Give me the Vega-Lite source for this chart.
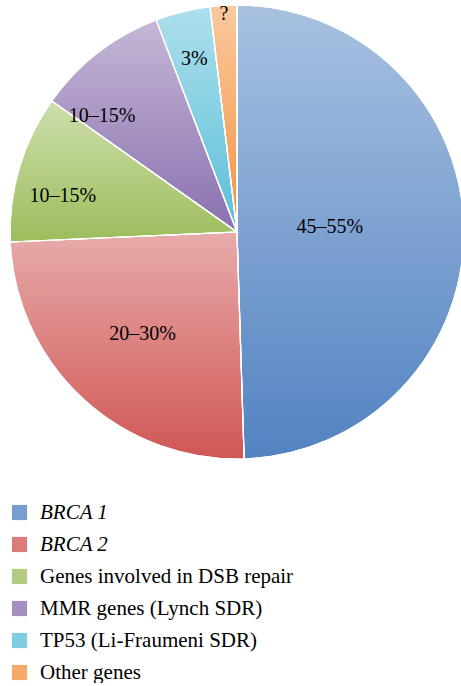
{
  "$schema": "https://vega.github.io/schema/vega-lite/v6.json",
  "width": 474,
  "height": 464,
  "padding": 0,
  "autosize": {"type": "pad"},
  "background": "white",
  "config": {"view": {"stroke": null}, "font": "Liberation Serif"},
  "data": {
    "values": [
      {"gene": "BRCA 1", "rank": 1, "share": 49.5, "label": "45–55%"},
      {"gene": "BRCA 2", "rank": 2, "share": 24.8, "label": "20–30%"},
      {"gene": "Genes involved in DSB repair", "rank": 3, "share": 10.5, "label": "10–15%"},
      {"gene": "MMR genes (Lynch SDR)", "rank": 4, "share": 9.4, "label": "10–15%"},
      {"gene": "TP53 (Li-Fraumeni SDR)", "rank": 5, "share": 3.9, "label": "3%"},
      {"gene": "Other genes", "rank": 6, "share": 1.9, "label": "?"}
    ]
  },
  "encoding": {
    "theta": {"field": "share", "type": "quantitative", "stack": true},
    "order": {"field": "rank", "type": "quantitative"}
  },
  "layer": [
    {
      "mark": {"type": "arc", "outerRadius": 227, "stroke": "white", "strokeWidth": 1.2},
      "encoding": {
        "color": {
          "field": "gene",
          "type": "nominal",
          "sort": null,
          "scale": {
            "domain": ["BRCA 1", "BRCA 2", "Genes involved in DSB repair", "MMR genes (Lynch SDR)", "TP53 (Li-Fraumeni SDR)", "Other genes"],
            "range": ["#5283c2", "#d05755", "#9dbd5c", "#8a70ae", "#5bbfd9", "#f5923e"]
          },
          "legend": {
            "title": null,
            "orient": "none",
            "legendX": 9,
            "legendY": 502,
            "symbolType": "square",
            "symbolSize": 230,
            "symbolStrokeWidth": 0,
            "symbolOpacity": 0.78,
            "labelFont": "Liberation Serif",
            "labelFontSize": 21,
            "labelColor": "black",
            "labelLimit": 420,
            "rowPadding": 10,
            "labelOffset": 10,
            "labelFontStyle": {"expr": "datum.label == 'BRCA 1' || datum.label == 'BRCA 2' ? 'italic' : 'normal'"}
          }
        }
      }
    },
    {
      "mark": {
        "type": "arc",
        "outerRadius": 227,
        "stroke": "white",
        "strokeWidth": 1.2,
        "fill": {
          "gradient": "linear",
          "x1": 0, "y1": 0, "x2": 0, "y2": 1,
          "stops": [
            {"offset": 0, "color": "rgba(255,255,255,0.5)"},
            {"offset": 1, "color": "rgba(255,255,255,0)"}
          ]
        }
      }
    },
    {
      "mark": {
        "type": "text",
        "font": "Liberation Serif",
        "fontSize": 20,
        "color": "black",
        "radius": {"expr": "datum.rank == 1 ? 93 : datum.rank == 2 ? 139 : datum.rank == 6 ? 218 : 178"},
        "thetaOffset": {"expr": "datum.rank == 1 ? -0.04 : datum.rank == 3 ? -0.08 : datum.rank == 4 ? -0.2 : 0"}
      },
      "encoding": {"text": {"field": "label", "type": "nominal"}}
    }
  ]
}
